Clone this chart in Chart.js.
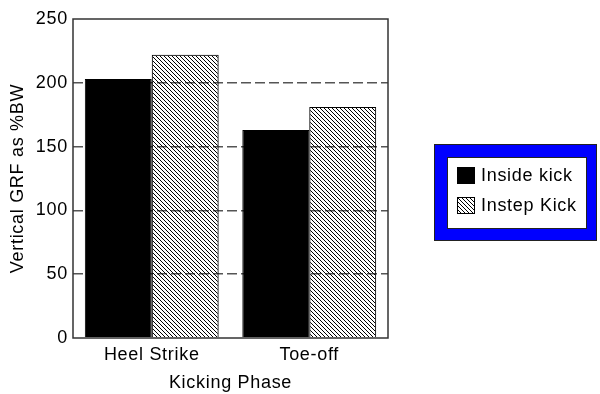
<!DOCTYPE html>
<html>
<head>
<meta charset="utf-8">
<title>Vertical GRF by kicking phase</title>
<script src="https://cdn.jsdelivr.net/npm/chart.js@4.4.1/dist/chart.umd.min.js"></script>
<style>
  html, body { margin: 0; padding: 0; background: #fff; }
  #wrap { width: 600px; height: 394px; }
</style>
</head>
<body>
<div id="wrap"><canvas id="grf-chart" width="600" height="394"></canvas></div>
<script>
// data
const phases = ['Heel Strike', 'Toe-off'];
const insideKick = [203, 163];
const instepKick = [222, 181];
const seriesNames = ['Inside kick', 'Instep Kick'];
const yMin = 0, yMax = 250, yStep = 50;

const FONT = 'Liberation Sans, Arial, Helvetica, sans-serif';
const FONT_SIZE = 18;
const SPACING = '0.7px'; // the original type runs a bit wider than Arial

// diagonal hatch (top-left to bottom-right), transparent gaps
function makeHatch(ctx) {
  const c = document.createElement('canvas');
  c.width = 4; c.height = 4;
  const g = c.getContext('2d');
  g.strokeStyle = '#000';
  g.lineWidth = 1;
  g.beginPath();
  g.moveTo(-1, -1); g.lineTo(5, 5);
  g.moveTo(-1, 3); g.lineTo(1, 5);
  g.moveTo(3, -1); g.lineTo(5, 1);
  g.stroke();
  return ctx.createPattern(c, 'repeat');
}

// a little extra letter spacing for all canvas text
const wideText = {
  id: 'wideText',
  beforeUpdate(chart) { chart.ctx.letterSpacing = SPACING; },
  beforeLayout(chart) { chart.ctx.letterSpacing = SPACING; },
  beforeDraw(chart) { chart.ctx.letterSpacing = SPACING; }
};

// box round the plot area
const frame = {
  id: 'frame',
  afterDatasetsDraw(chart) {
    const { ctx, chartArea: a } = chart;
    ctx.save();
    ctx.strokeStyle = '#333';
    ctx.lineWidth = 1.5;
    ctx.strokeRect(a.left, a.top, a.right - a.left, a.bottom - a.top);
    ctx.restore();
  }
};

// blue framed legend on the right
const boxLegend = {
  id: 'boxLegend',
  afterDraw(chart) {
    const ctx = chart.ctx;
    ctx.save();
    ctx.fillStyle = '#0000ff';
    ctx.fillRect(434, 144, 163, 97);
    ctx.strokeStyle = '#222';
    ctx.lineWidth = 1;
    ctx.strokeRect(434.5, 144.5, 162, 96);
    ctx.fillStyle = '#fff';
    ctx.fillRect(447, 157, 140, 72);
    ctx.strokeRect(447.5, 157.5, 139, 71);

    ctx.font = FONT_SIZE + 'px ' + FONT;
    ctx.letterSpacing = SPACING;
    ctx.textBaseline = 'middle';
    chart.data.datasets.forEach((ds, i) => {
      const y = 167 + i * 30;
      ctx.fillStyle = ds.backgroundColor;
      ctx.fillRect(457, y, 18, 17);
      ctx.strokeStyle = '#000';
      ctx.strokeRect(457.5, y + 0.5, 17, 16);
      ctx.fillStyle = '#000';
      ctx.fillText(ds.label, 481, y + 9);
    });
    ctx.restore();
  }
};

const canvas = document.getElementById('grf-chart');
const ctx = canvas.getContext('2d');
const hatch = makeHatch(ctx);

new Chart(ctx, {
  type: 'bar',
  data: {
    labels: phases,
    datasets: [
      {
        label: seriesNames[0],
        data: insideKick,
        backgroundColor: '#000',
        borderColor: '#000',
        borderWidth: 1
      },
      {
        label: seriesNames[1],
        data: instepKick,
        backgroundColor: hatch,
        borderColor: '#000',
        borderWidth: 1
      }
    ]
  },
  options: {
    responsive: false,
    animation: false,
    layout: {
      padding: { top: 19, right: 212, left: 0, bottom: 0 }
    },
    datasets: {
      bar: { categoryPercentage: 0.85, barPercentage: 1.0 }
    },
    plugins: {
      legend: { display: false },
      tooltip: { enabled: false }
    },
    scales: {
      x: {
        grid: { display: false, drawTicks: false },
        border: { display: false },
        ticks: {
          color: '#000',
          padding: 6,
          font: { family: FONT, size: FONT_SIZE }
        },
        title: {
          display: true,
          text: 'Kicking Phase',
          color: '#000',
          font: { family: FONT, size: FONT_SIZE },
          padding: { top: 6, bottom: 0 }
        },
        afterFit: function(scale) { scale.height = 56; }
      },
      y: {
        min: yMin,
        max: yMax,
        grid: {
          drawTicks: false,
          lineWidth: 1.5,
          color: function(c) {
            const v = c.tick ? c.tick.value : null;
            return (v === yMin || v === yMax) ? 'rgba(0,0,0,0)' : '#555';
          }
        },
        border: { display: false, dash: [10, 4] },
        ticks: {
          stepSize: yStep,
          color: '#000',
          padding: 5,
          font: { family: FONT, size: FONT_SIZE }
        },
        title: {
          display: true,
          text: 'Vertical GRF as %BW',
          color: '#000',
          font: { family: FONT, size: FONT_SIZE },
          padding: { top: 7, bottom: 0 }
        },
        afterFit: function(scale) { scale.width = 73; }
      }
    }
  },
  plugins: [wideText, frame, boxLegend]
});
</script>
</body>
</html>
